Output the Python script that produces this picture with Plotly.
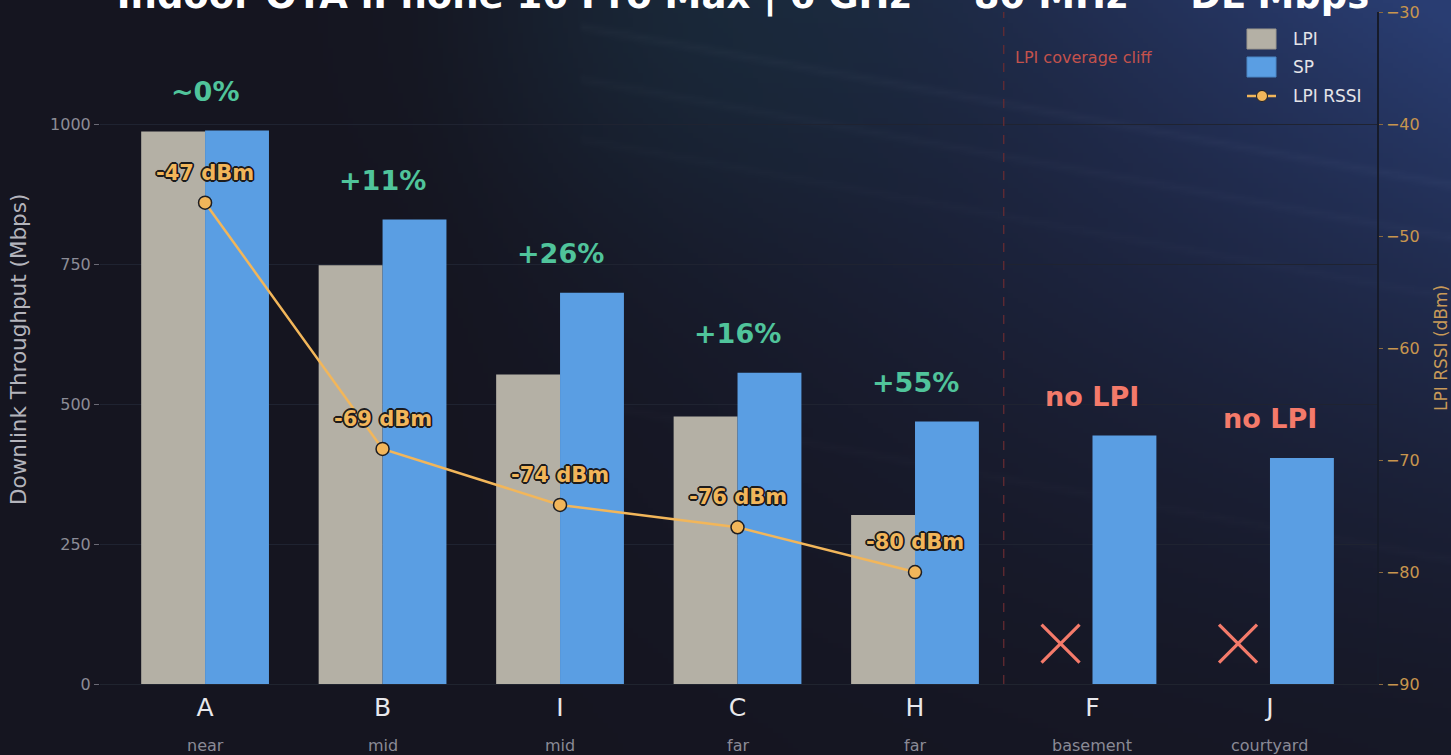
import base64
import struct
import zlib

import numpy as np
import plotly.graph_objects as go

# ---------------- data ----------------
locations = ["A", "B", "I", "C", "H", "F", "J"]
zones = ["near", "mid", "mid", "far", "far", "basement", "courtyard"]
lpi_mbps = [987, 748, 553, 478, 302, None, None]
sp_mbps = [989, 830, 699, 556, 469, 444, 404]
rssi_locations = ["A", "B", "I", "C", "H"]
lpi_rssi_dbm = [-47, -69, -74, -76, -80]
left_ticks = [0, 250, 500, 750, 1000]
right_ticks = [-90, -80, -70, -60, -50, -40, -30]

TITLE = "Indoor OTA iPhone 16 Pro Max | 6 GHz \u2014 80 MHz \u2014 DL Mbps"

# ---------------- style ----------------
W, H = 1451, 755
FONT = "DejaVu Sans"
LPI_C = "#b4b0a5"
SP_C = "#5a9ee3"
RSSI_C = "#f2b65a"
GAIN_C = "#50c49b"
NOLPI_C = "#f47a6a"
BARGAP = 0.28
OFFSET = (1 - BARGAP) / 4
X_MARK_LEVEL = 72

px_x = lambda p: p / W
px_y = lambda p: 1 - p / H


# ---------------- background image ----------------
def png_data_uri(arr):
    h, w, _ = arr.shape
    raw = b"".join(b"\x00" + arr[r].tobytes() for r in range(h))

    def chunk(t, d):
        c = struct.pack(">I", len(d)) + t + d
        return c + struct.pack(">I", zlib.crc32(t + d) & 0xFFFFFFFF)

    png = (b"\x89PNG\r\n\x1a\n"
           + chunk(b"IHDR", struct.pack(">IIBBBBB", w, h, 8, 2, 0, 0, 0))
           + chunk(b"IDAT", zlib.compress(raw, 9))
           + chunk(b"IEND", b""))
    return "data:image/png;base64," + base64.b64encode(png).decode()


gw, gh = 290, 151
u = np.linspace(0, 1, gw)[None, :]
v = np.linspace(0, 1, gh)[:, None]
base = np.array([21, 21, 32], float)
blue = np.array([42, 62, 115], float)
teal = np.array([26, 50, 64], float)
wx = np.clip((u - 0.28) / 0.72, 0, 1) ** 1.2
wy = np.clip(1 - v, 0, 1) ** 1.4
wb = np.clip(wx * wy * 0.95 + wx * 0.08, 0, 1)
wt = 0.5 * np.exp(-((u - 0.5) / 0.17) ** 2 - (v / 0.28) ** 2)
img = base[None, None, :] * (1 - wb[..., None]) + blue[None, None, :] * wb[..., None]
img = img * (1 - wt[..., None]) + teal[None, None, :] * wt[..., None]
# faint diagonal streaks
for c0, a in [(0.05, 5), (0.12, 4), (0.2, 3), (0.55, 3)]:
    d = np.abs((v - c0) - (u - 0.45) * 0.35)
    img += a * np.exp(-(d / 0.006) ** 2)[..., None] * (u > 0.4)[..., None]
img = np.clip(img, 0, 255).astype(np.uint8)
bg_uri = png_data_uri(img)

# ---------------- figure ----------------
xs = list(range(len(locations)))
rssi_x = [locations.index(l) for l in rssi_locations]

fig = go.Figure()
fig.add_trace(go.Bar(x=xs, y=lpi_mbps, name="LPI", marker=dict(color=LPI_C, line=dict(width=0)),
                     showlegend=False))
fig.add_trace(go.Bar(x=xs, y=sp_mbps, name="SP", marker=dict(color=SP_C, line=dict(width=0)),
                     showlegend=False))

nolpi_idx = [i for i, v_ in enumerate(lpi_mbps) if v_ is None]
fig.add_trace(go.Scatter(x=[i - OFFSET for i in nolpi_idx], y=[X_MARK_LEVEL] * len(nolpi_idx),
                         mode="markers", showlegend=False, hoverinfo="skip",
                         marker=dict(symbol="x-thin", size=38, line=dict(color=NOLPI_C, width=3.2),
                                     color=NOLPI_C)))

fig.add_trace(go.Scatter(x=rssi_x, y=lpi_rssi_dbm, yaxis="y2", mode="lines+markers", name="LPI RSSI",
                         showlegend=False, line=dict(color=RSSI_C, width=2.5),
                         marker=dict(size=13, color=RSSI_C, line=dict(color="#1e1e22", width=1.5))))

annotations = []
shadow_pts = [(-1.7, 0), (1.7, 0), (0, -1.7), (0, 1.7), (-1.2, -1.2), (1.2, -1.2), (-1.2, 1.2), (1.2, 1.2)]
outline = ", ".join(f"{dx}px {dy}px 0 #1c1c1e" for dx, dy in shadow_pts)

for xi, r in zip(rssi_x, lpi_rssi_dbm):
    annotations.append(dict(x=xi, y=r, xref="x", yref="y2", text=f"{r} dBm", showarrow=False,
                            yshift=30, yanchor="middle",
                            font=dict(family=FONT, size=21, color=RSSI_C, weight="bold", shadow=outline)))

for i, (l, s) in enumerate(zip(lpi_mbps, sp_mbps)):
    if l is None:
        txt, col, top = "no LPI", NOLPI_C, s
    else:
        g = (s / l - 1) * 100
        txt = "~0%" if abs(g) < 1 else f"{g:+.0f}%"
        col, top = GAIN_C, max(l, s)
    annotations.append(dict(x=i, y=top, xref="x", yref="y", text=txt, showarrow=False,
                            yshift=39, yanchor="middle",
                            font=dict(family=FONT, size=27, color=col, weight="bold")))

for i, z in enumerate(zones):
    annotations.append(dict(x=i, y=px_y(745), xref="x", yref="paper", text=z, showarrow=False,
                            yanchor="middle", font=dict(family=FONT, size=16, color="#8a8a96")))

annotations.append(dict(x=px_x(19), y=px_y(350), xref="paper", yref="paper", xanchor="center",
                        yanchor="middle", text="Downlink Throughput (Mbps)", textangle=-90,
                        showarrow=False, font=dict(family=FONT, size=21.5, color="#b4b4bc")))
annotations.append(dict(x=px_x(1441), y=px_y(348), xref="paper", yref="paper", xanchor="center",
                        yanchor="middle", text="LPI RSSI (dBm)", textangle=-90, showarrow=False,
                        font=dict(family=FONT, size=17, color="#c89a58")))
annotations.append(dict(x=px_x(1013), y=px_y(46), xref="paper", yref="paper", xanchor="left",
                        text="LPI coverage cliff", showarrow=False,
                        font=dict(family=FONT, size=16, color="#c4524c")))

# custom legend
leg_x0, leg_x1, leg_tx = 1247, 1276, 1291
shapes = [
    dict(type="line", xref="x", yref="paper", x0=4.5, x1=4.5, y0=px_y(684), y1=px_y(12),
         line=dict(color="#6a2c32", width=1.2, dash="dash"), layer="above"),
    dict(type="rect", xref="paper", yref="paper", x0=px_x(leg_x0), x1=px_x(leg_x1),
         y0=px_y(49), y1=px_y(29), fillcolor=LPI_C, line=dict(color="#9c988e", width=1)),
    dict(type="rect", xref="paper", yref="paper", x0=px_x(leg_x0), x1=px_x(leg_x1),
         y0=px_y(77), y1=px_y(57), fillcolor=SP_C, line=dict(color="#4a86c4", width=1)),
    dict(type="line", xref="paper", yref="paper", x0=px_x(leg_x0), x1=px_x(leg_x1),
         y0=px_y(96), y1=px_y(96), line=dict(color=RSSI_C, width=2.5)),
    dict(type="circle", xref="paper", yref="paper", x0=px_x(1256.5), x1=px_x(1267.5),
         y0=px_y(101.5), y1=px_y(90.5), fillcolor=RSSI_C, line=dict(color="#1e1e22", width=1)),
]
for name, yy in [("LPI", 39), ("SP", 67), ("LPI RSSI", 96)]:
    annotations.append(dict(x=px_x(leg_tx), y=px_y(yy), xref="paper", yref="paper", xanchor="left",
                            yanchor="middle", text=name, showarrow=False,
                            font=dict(family=FONT, size=17, color="#e4e4e8")))

fig.update_layout(
    width=W, height=H,
    margin=dict(l=0, r=0, t=0, b=0),
    paper_bgcolor="#151520",
    plot_bgcolor="rgba(0,0,0,0)",
    font=dict(family=FONT, color="#dddddd"),
    barmode="group", bargap=BARGAP, bargroupgap=0,
    showlegend=False,
    title=dict(text=TITLE, x=743 / W, xanchor="center", xref="container", yref="container",
               y=px_y(8), yanchor="bottom",
               font=dict(family=FONT, size=37, color="#ffffff", weight="bold")),
    xaxis=dict(domain=[px_x(100), px_x(1377)], range=[-0.592, 6.603], tickmode="array",
               tickvals=xs, ticktext=locations, tickfont=dict(family=FONT, size=25, color="#e8e8ec"),
               showgrid=False, zeroline=False, showline=True, linecolor="#20242f", linewidth=1,
               ticks="", ticklabelstandoff=1, automargin=False),
    yaxis=dict(domain=[px_y(684), px_y(12.4)], range=[0, 1200], tickmode="array", tickvals=left_ticks,
               tickfont=dict(family=FONT, size=16, color="#8c8c96"), ticks="outside", ticklen=5,
               tickcolor="#6a6a75", showgrid=True, gridcolor="#1f2331", gridwidth=1,
               zeroline=False, showline=False, automargin=False),
    yaxis2=dict(overlaying="y", side="right", range=[-90, -30], tickmode="array", tickvals=right_ticks,
                tickfont=dict(family=FONT, size=16, color="#c8964e"), ticks="outside", ticklen=4,
                tickcolor="#8a6a40", showgrid=False, zeroline=False, showline=True,
                linecolor="#161b2a", linewidth=1.5, automargin=False),
    images=[dict(source=bg_uri, xref="paper", yref="paper", x=0, y=1, sizex=1, sizey=1,
                 xanchor="left", yanchor="top", sizing="stretch", layer="below")],
    annotations=annotations,
    shapes=shapes,
)

fig.write_html(
    "out.html",
    config={"displayModeBar": False},
    post_script="document.body.style.margin='0';document.body.style.overflow='hidden';",
)
